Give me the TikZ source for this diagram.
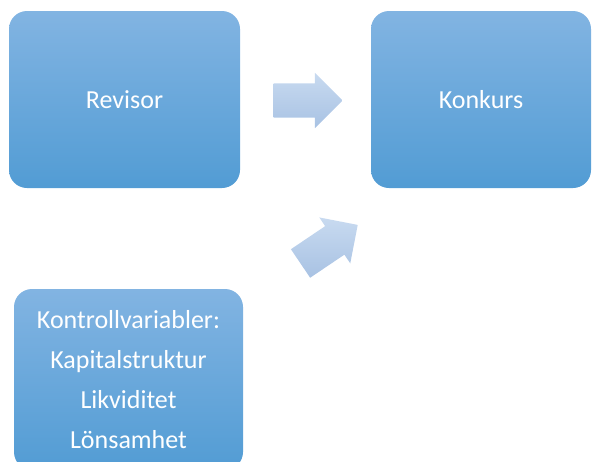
\documentclass[tikz,border=0pt]{standalone}
\usepackage{fontspec}
\setmainfont{Carlito}
\usetikzlibrary{positioning, shapes.arrows}
\definecolor{boxtop}{HTML}{82B4E2}
\definecolor{boxmid}{HTML}{66ABE1}
\definecolor{boxbot}{HTML}{529CD4}
\definecolor{arrtop}{HTML}{C8DAF0}
\definecolor{arrbot}{HTML}{A8C2E3}
\tikzstyle{block}  = [rectangle, rounded corners=18pt, text centered, align=center,
    top color=boxtop, middle color=boxmid, bottom color=boxbot, draw=none,
    text=white, font=\fontsize{26}{40}\selectfont]
\tikzstyle{bigarrow} = [single arrow, minimum height=69pt, inner xsep=0pt, inner ysep=17pt,
    single arrow head extend=10.5pt, top color=arrtop, bottom color=arrbot, draw=none]

\begin{document}
\begin{tikzpicture}[x=1pt, y=-1pt]
    \clip (0,0) rectangle (593,461);
    \useasboundingbox (0,0) rectangle (593,461);
    \node (revisor) [block, minimum width=231pt, minimum height=177pt] at (124.5,99.5) {Revisor};
    \node (konkurs) [block, minimum width=220pt, minimum height=177pt] at (481,99.5)   {Konkurs};
    \node (kontroll) [block, minimum width=229pt, minimum height=181pt] at (128.5,379.5)
        {Kontrollvariabler:\\Kapitalstruktur\\Likviditet\\Lönsamhet};

    \node (pil1) [bigarrow] at (299.5,100.5) {};
    \node (pil2) [bigarrow, rotate=34] at (322,249) {};
\end{tikzpicture}
\end{document}
